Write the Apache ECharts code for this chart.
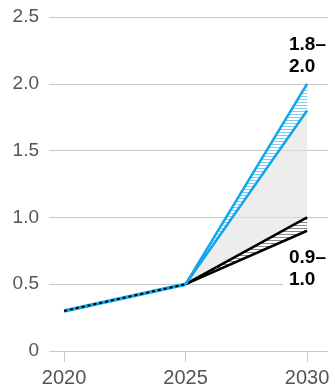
<!DOCTYPE html>
<html><head><meta charset="utf-8">
<script src="https://cdn.jsdelivr.net/npm/echarts@6/dist/echarts.min.js"></script>
<style>html,body{margin:0;padding:0;background:#fff}#c{width:335px;height:388px}</style>
</head><body><div id="c"></div>
<script>
// Data
var years = [2020, 2025, 2030];
var histYears = [2020, 2025];
var histValues = [0.3, 0.5];
var forecastYears = [2025, 2030];
var blueHigh = [0.5, 2.0];
var blueLow = [0.5, 1.8];
var blackHigh = [0.5, 1.0];
var blackLow = [0.5, 0.9];
var rangeLabels = ['1.8–\n2.0', '0.9–\n1.0'];

var BLUE = '#12a5e8';
var FONT = 'Liberation Sans, Arial, sans-serif';

function pattern(bg, fg) {
  var c = document.createElement('canvas');
  c.width = 4; c.height = 3;
  var g = c.getContext('2d');
  g.fillStyle = bg; g.fillRect(0, 0, 4, 3);
  g.fillStyle = fg; g.fillRect(0, 0, 4, 1);
  return { image: c, repeat: 'repeat' };
}
function pts(xs, ys) { return xs.map(function (x, i) { return [x, ys[i]]; }); }

function band(upper, lower, fill) {
  return {
    type: 'custom', silent: true, z: 1,
    data: [[forecastYears[0], lower[0]]],
    renderItem: function (params, api) {
      var p = [];
      forecastYears.forEach(function (x, i) { p.push(api.coord([x, upper[i]])); });
      for (var i = forecastYears.length - 1; i >= 0; i--) p.push(api.coord([forecastYears[i], lower[i]]));
      return { type: 'polygon', shape: { points: p }, style: { fill: fill } };
    }
  };
}

var chart = echarts.init(document.getElementById('c'), null, { renderer: 'canvas' });
chart.setOption({
  animation: false,
  grid: { left: 49, right: 7, top: 17, bottom: 37 },
  xAxis: {
    type: 'value', min: 2019.38, max: 2030.86,
    axisLine: { show: false },
    splitLine: { show: false },
    axisTick: { show: true, customValues: years, length: 11, lineStyle: { color: '#c8c8c8', width: 1 } },
    axisLabel: { customValues: years, margin: 17, color: '#555', fontSize: 20, fontFamily: FONT,
      formatter: function (v) { return String(v); } }
  },
  yAxis: {
    type: 'value', min: 0, max: 2.5, interval: 0.5,
    axisLine: { show: false }, axisTick: { show: false },
    splitLine: { lineStyle: { color: '#c8c8c8', width: 1 } },
    axisLabel: {
      margin: 10, color: '#555', fontSize: 19, fontFamily: FONT,
      formatter: function (v) { return v === 0 ? '0' : v.toFixed(1); }
    }
  },
  series: [
    band(blueLow, blackHigh, 'rgba(225,225,225,0.6)'),
    band(blackHigh, blackLow, pattern('#ffffff', '#8a8a8a')),
    band(blueHigh, blueLow, pattern('#ffffff', '#7fcdf2')),
    { type: 'line', symbol: 'none', z: 3, lineStyle: { color: '#000', width: 2.5 }, data: pts(forecastYears, blackLow) },
    { type: 'line', symbol: 'none', z: 3, lineStyle: { color: '#000', width: 2.5 }, data: pts(forecastYears, blackHigh) },
    { type: 'line', symbol: 'none', z: 3, lineStyle: { color: BLUE, width: 2.5 }, data: pts(forecastYears, blueLow) },
    { type: 'line', symbol: 'none', z: 3, lineStyle: { color: BLUE, width: 2.5 }, data: pts(forecastYears, blueHigh) },
    { type: 'line', symbol: 'none', z: 3, lineStyle: { color: BLUE, width: 3.5 }, data: pts(histYears, histValues) },
    { type: 'line', symbol: 'none', z: 4, lineStyle: { color: '#000', width: 2, type: [3, 3] }, data: pts(histYears, histValues) }
  ],
  graphic: [
    { type: 'text', left: 289, top: 34, z: 100,
      style: { text: rangeLabels[0], fill: '#000', font: 'bold 19px ' + FONT, lineHeight: 22 } },
    { type: 'text', left: 283, top: 245, z: 100,
      style: { text: rangeLabels[1], fill: '#000', font: 'bold 19px ' + FONT, lineHeight: 22,
        backgroundColor: '#fff', padding: [2, 4, 2, 6] } }
  ]
});
</script></body></html>
